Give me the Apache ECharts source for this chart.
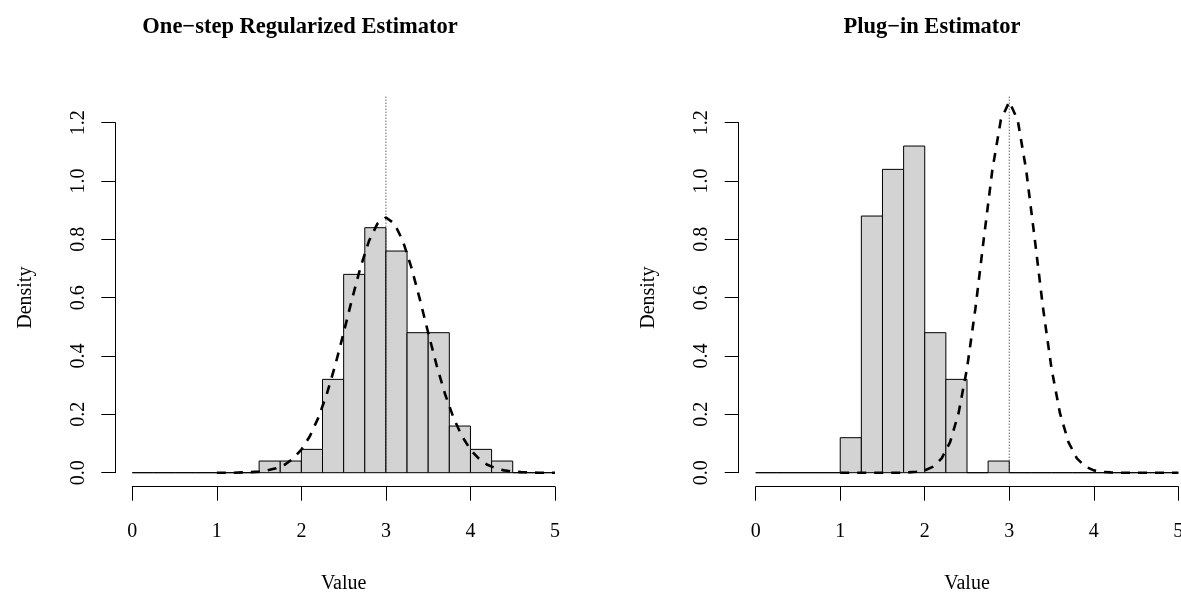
<!DOCTYPE html>
<html>
<head>
<meta charset="utf-8">
<script src="https://cdn.jsdelivr.net/npm/echarts@6/dist/echarts.min.js"></script>
<style>
  html, body { margin: 0; padding: 0; background: #fff; }
  #main { width: 1181px; height: 592px; }
</style>
</head>
<body>
<div id="main"></div>
<script>
// histogram bin edges (same for both panels)
var binEdges = [0, 0.25, 0.5, 0.75, 1, 1.25, 1.5, 1.75, 2, 2.25, 2.5, 2.75, 3, 3.25, 3.5, 3.75, 4, 4.25, 4.5, 4.75, 5];

// densities per bin
var oneStepDensity = [0, 0, 0, 0, 0, 0, 0.04, 0.04, 0.08, 0.32, 0.68, 0.84, 0.76, 0.48, 0.48, 0.16, 0.08, 0.04, 0, 0];
var plugInDensity  = [0, 0, 0, 0, 0.12, 0.88, 1.04, 1.12, 0.48, 0.32, 0, 0.04, 0, 0, 0, 0, 0, 0, 0, 0];

// dashed curves
var curveX = [1.0, 1.1, 1.2, 1.3, 1.4, 1.5, 1.6, 1.7, 1.8, 1.9, 2.0, 2.1, 2.2, 2.3, 2.4, 2.5, 2.6, 2.7, 2.8, 2.9, 3.0,
              3.1, 3.2, 3.3, 3.4, 3.5, 3.6, 3.7, 3.8, 3.9, 4.0, 4.1, 4.2, 4.3, 4.4, 4.5, 4.6, 4.7, 4.8, 4.9, 5.0];
var oneStepCurve = [0, 0, 0, 0.001, 0.002, 0.004, 0.008, 0.015, 0.027, 0.048, 0.079, 0.125, 0.188, 0.269, 0.368, 0.480, 0.596, 0.705, 0.795, 0.854, 0.875,
                    0.854, 0.795, 0.705, 0.596, 0.480, 0.368, 0.269, 0.188, 0.125, 0.079, 0.048, 0.027, 0.015, 0.008, 0.004, 0.002, 0.001, 0, 0, 0];
var plugInCurve  = [0, 0, 0, 0, 0, 0, 0, 0, 0.001, 0.003, 0.008, 0.021, 0.049, 0.105, 0.204, 0.357, 0.564, 0.805, 1.038, 1.209, 1.272,
                    1.209, 1.038, 0.805, 0.564, 0.357, 0.204, 0.105, 0.049, 0.021, 0.008, 0.003, 0.001, 0, 0, 0, 0, 0, 0, 0, 0];

// true value line
var trueValue = 3;
var trueLineTop = 1.295;

var xTicks = [0, 1, 2, 3, 4, 5];
var yTicks = [0, 0.2, 0.4, 0.6, 0.8, 1.0, 1.2];
var titles = ['One\u2212step Regularized Estimator', 'Plug\u2212in Estimator'];

var font = '"Liberation Serif", "Times New Roman", serif';

function xAxisFor(idx) {
  return {
    type: 'value', gridIndex: idx, min: xTicks[0], max: xTicks[xTicks.length - 1], interval: 1,
    offset: 14,
    name: 'Value', nameLocation: 'middle', nameGap: 87,
    nameTextStyle: { fontFamily: font, fontSize: 20, color: '#000' },
    axisLine: { show: true, onZero: false, lineStyle: { color: '#000', width: 1 } },
    axisTick: { show: true, length: 14, lineStyle: { color: '#000', width: 1 } },
    axisLabel: { fontFamily: font, fontSize: 20, color: '#000', margin: 35, hideOverlap: false },
    splitLine: { show: false }
  };
}

function yAxisFor(idx) {
  return {
    type: 'value', gridIndex: idx, min: yTicks[0], max: yTicks[yTicks.length - 1], interval: 0.2,
    offset: 17,
    name: 'Density', nameLocation: 'middle', nameGap: 80, nameRotate: 90,
    nameTextStyle: { fontFamily: font, fontSize: 20, color: '#000' },
    axisLine: { show: true, onZero: false, lineStyle: { color: '#000', width: 1 } },
    axisTick: { show: true, length: 14, lineStyle: { color: '#000', width: 1 } },
    axisLabel: {
      fontFamily: font, fontSize: 20, color: '#000', margin: 27, rotate: 90,
      formatter: function (v) { return v.toFixed(1); }
    },
    splitLine: { show: false }
  };
}

function histSeries(idx, dens) {
  var data = dens.map(function (d, i) { return [binEdges[i], binEdges[i + 1], d]; });
  return {
    type: 'custom', xAxisIndex: idx, yAxisIndex: idx, clip: false, z: 2,
    data: data,
    encode: { x: [0, 1], y: 2 },
    renderItem: function (params, api) {
      var p0 = api.coord([api.value(0), api.value(2)]);
      var p1 = api.coord([api.value(1), 0]);
      return {
        type: 'rect',
        shape: { x: p0[0], y: p0[1], width: p1[0] - p0[0], height: p1[1] - p0[1] },
        style: { fill: '#d3d3d3', stroke: '#000', lineWidth: 1 }
      };
    }
  };
}

function curveSeries(idx, ys) {
  return {
    type: 'line', xAxisIndex: idx, yAxisIndex: idx, clip: false, z: 4,
    data: curveX.map(function (x, i) { return [x, ys[i]]; }),
    showSymbol: false, symbol: 'none', smooth: false,
    lineStyle: { color: '#000', width: 2.6, type: [9, 8] }
  };
}

function trueLineSeries(idx) {
  return {
    type: 'line', xAxisIndex: idx, yAxisIndex: idx, clip: false, z: 3,
    data: [[trueValue, 0], [trueValue, trueLineTop]],
    showSymbol: false, symbol: 'none',
    lineStyle: { color: '#222', width: 1, type: [1, 2] }
  };
}

var chart = echarts.init(document.getElementById('main'), null, { renderer: 'canvas' });

chart.setOption({
  animation: false,
  backgroundColor: '#fff',
  title: [
    { text: titles[0], left: 300, top: 16, textAlign: 'center', padding: 0,
      textStyle: { fontFamily: font, fontSize: 22.5, fontWeight: 'bold', color: '#000' } },
    { text: titles[1], left: 932, top: 16, textAlign: 'center', padding: 0,
      textStyle: { fontFamily: font, fontSize: 22.5, fontWeight: 'bold', color: '#000' } }
  ],
  grid: [
    { left: 132.3, right: 626, top: 122.7, bottom: 119.3, containLabel: false, outerBoundsMode: 'none' },
    { left: 755.7, right: 2.7, top: 122.7, bottom: 119.3, containLabel: false, outerBoundsMode: 'none' }
  ],
  xAxis: [xAxisFor(0), xAxisFor(1)],
  yAxis: [yAxisFor(0), yAxisFor(1)],
  series: [
    histSeries(0, oneStepDensity),
    trueLineSeries(0),
    curveSeries(0, oneStepCurve),
    histSeries(1, plugInDensity),
    trueLineSeries(1),
    curveSeries(1, plugInCurve)
  ]
});
</script>
</body>
</html>
